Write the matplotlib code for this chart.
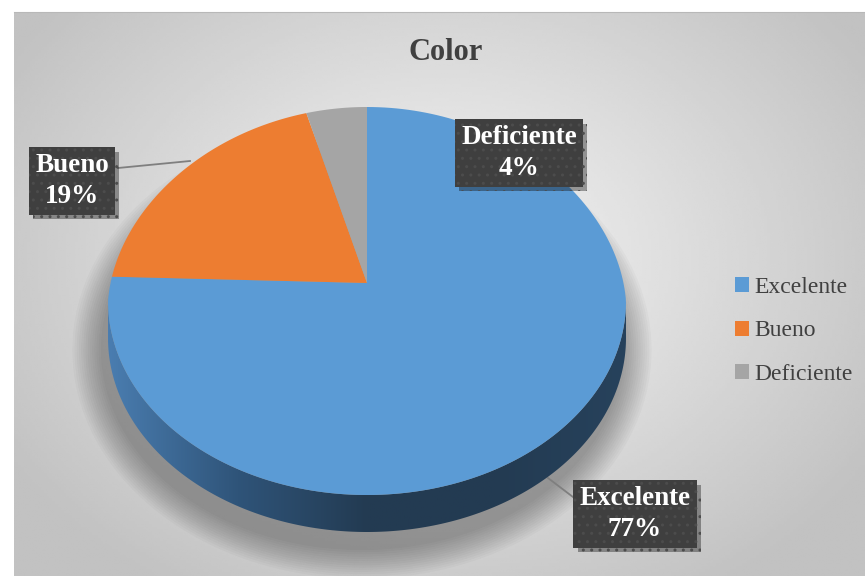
import numpy as np
import matplotlib
matplotlib.use('Agg')
import matplotlib.pyplot as plt
from matplotlib.patches import Polygon, Ellipse, Patch
from matplotlib.colors import LinearSegmentedColormap
import matplotlib.patheffects as pe

plt.rcParams['font.family'] = ['Liberation Serif', 'DejaVu Serif']

# datos del grafico
categorias = ['Excelente', 'Bueno', 'Deficiente']
porcentajes = [77, 19, 4]
colores = ['#5b9bd5', '#ed7d31', '#a5a5a5']
titulo = 'Color'

# geometria del pie (en pixeles de la figura)
W, H = 865, 576
cx, cy = 367, 301      # centro de la elipse
apex = (367, 283)      # vertice de las porciones
a, b = 259, 194        # semiejes
depth = 37             # espesor del disco


def rim(theta_deg, dy=0.0):
    # perspectiva simple: la parte trasera se ve algo mas angosta
    t = np.radians(theta_deg)
    s = 1 - 0.06 * np.clip(np.cos(t), 0, None)
    return np.column_stack([cx + a * np.sin(t) * s, cy - b * np.cos(t) + dy])


fig = plt.figure(figsize=(W / 100, H / 100), dpi=100)
fig.patch.set_facecolor('white')
ax = fig.add_axes([0, 0, 1, 1])
ax.set_xlim(0, W)
ax.set_ylim(H, 0)
ax.axis('off')

# fondo con degradado radial
x0, x1, y0, y1 = 13.5, 864, 12, 576
xx, yy = np.meshgrid(np.linspace(x0, x1, 300), np.linspace(y0, y1, 200))
d = np.sqrt(((xx - 440) / 470) ** 2 + ((yy - 260) / 360) ** 2)
bg = np.clip(0.965 - 0.19 * d, 0.76, 1)
ax.imshow(bg, extent=[x0, x1, y1, y0], cmap='gray', vmin=0, vmax=1,
          aspect='auto', zorder=0, interpolation='bilinear')
ax.plot([x0, x1], [y0, y0], color='#b8b8b8', lw=0.8, zorder=1)

# sombra suave bajo el disco
for i in range(14):
    g = i * 2.2
    ax.add_patch(Ellipse((362, 350), 2 * (a + 2 + g), 2 * (b + 6 + g),
                         facecolor='black', edgecolor='none', alpha=0.024,
                         zorder=2))

# lineas guia (por debajo del disco)
frac = np.array(porcentajes) / sum(porcentajes)
inicio = np.concatenate([[0], np.cumsum(frac)[:-1]]) * 360

cajas = {
    'Excelente': (635, 514),
    'Bueno': (72, 181),
    'Deficiente': (519, 153),
}
guias = {'Excelente': ((548, 478), (573, 497)),
         'Bueno': ((118, 168), (190, 161))}
for nombre, (p, q) in guias.items():
    ax.plot([p[0], q[0]], [p[1], q[1]], color='#7f7f7f', lw=1.3, zorder=3)

# lateral del disco (solo la parte frontal es visible)
top = rim(np.linspace(90, 270, 200))
bot = rim(np.linspace(270, 90, 200), dy=depth)
lado = Polygon(np.vstack([top, bot]), closed=True, facecolor='none',
               edgecolor='none', zorder=4)
ax.add_patch(lado)
cmap_lado = LinearSegmentedColormap.from_list(
    'lado', ['#4a7db0', '#2f5479', '#233b52', '#233b52', '#27425c'])
grad = np.linspace(0, 1, 256)[None, :]
im = ax.imshow(grad, extent=[cx - a, cx + a, cy + b + depth + 2, cy - 10],
               cmap=cmap_lado, aspect='auto', zorder=4)
im.set_clip_path(lado)

# porciones de la cara superior
for ang0, fr, col in zip(inicio, frac, colores):
    arco = rim(np.linspace(ang0, ang0 + fr * 360, 200))
    ax.add_patch(Polygon(np.vstack([[apex], arco]), closed=True,
                         facecolor=col, edgecolor='none', zorder=5))

# etiquetas de datos
for nombre, pct in zip(categorias, porcentajes):
    xt, yt = cajas[nombre]
    t = ax.text(xt, yt, f'{nombre}\n{pct}%', ha='center', va='center',
                fontsize=19.5, fontweight='bold', color='white',
                linespacing=1.28, zorder=7,
                bbox=dict(boxstyle='square,pad=0.22', facecolor='#3f3f3f',
                          edgecolor='#4c4c4c', hatch='..', linewidth=0))
    t.get_bbox_patch().set_path_effects([
        pe.SimplePatchShadow(offset=(3, -3), shadow_rgbFace='black', alpha=0.35),
        pe.Normal()])

# titulo
ax.text(446, 52, titulo, ha='center', va='center', fontsize=22,
        fontweight='bold', color='#404040', zorder=7)

# leyenda
handles = [Patch(facecolor=c, edgecolor='none') for c in colores]
leg = ax.legend(handles, categorias, loc='center left',
                bbox_to_anchor=(714 / W, 1 - 331 / H), frameon=False,
                fontsize=17, labelcolor='#404040', handlelength=0.6,
                handleheight=0.6, handletextpad=0.2, labelspacing=0.95)

fig.savefig('out.png', dpi=100)
